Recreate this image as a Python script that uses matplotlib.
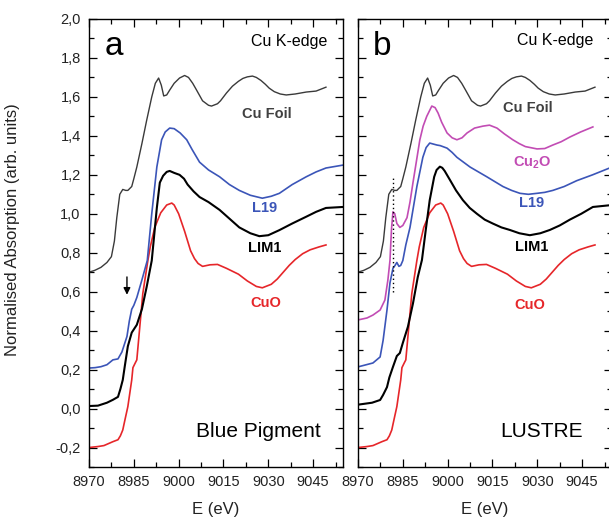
import matplotlib
matplotlib.use('Agg')
import matplotlib.pyplot as plt
from matplotlib.ticker import MultipleLocator, FuncFormatter

plt.rcParams['font.family'] = ['Liberation Sans', 'DejaVu Sans']
plt.rcParams['mathtext.fontset'] = 'custom'
plt.rcParams['mathtext.rm'] = 'Liberation Sans'
plt.rcParams['mathtext.bf'] = 'Liberation Sans:bold'

# ---- data (energy in eV, normalised absorption) ----
cufoil_E = [8970, 8972, 8974, 8976, 8977.5, 8978.5, 8979.3, 8980.3, 8981.3, 8982.3, 8983, 8984.3, 8985,
            8986, 8987.7, 8989.3, 8991, 8992.2, 8993.3, 8994.2, 8995, 8996, 8997, 8998.5, 9000.3, 9002,
            9003.3, 9004.7, 9006, 9008, 9010, 9011, 9013, 9014, 9016, 9018, 9020, 9021.5, 9023, 9024.7,
            9026, 9027.5, 9029, 9030.3, 9032, 9034, 9036, 9039, 9042.7, 9046, 9049.3]
cufoil_mu = [0.70, 0.71, 0.725, 0.75, 0.78, 0.86, 0.98, 1.10, 1.125, 1.12, 1.12, 1.14, 1.18,
             1.24, 1.36, 1.48, 1.60, 1.67, 1.697, 1.66, 1.605, 1.61, 1.635, 1.67, 1.697, 1.71,
             1.70, 1.67, 1.635, 1.58, 1.557, 1.553, 1.565, 1.58, 1.62, 1.655, 1.68, 1.695, 1.703, 1.707,
             1.70, 1.685, 1.665, 1.645, 1.627, 1.615, 1.61, 1.615, 1.625, 1.63, 1.65]

cuo_E = [8970, 8973, 8975, 8978, 8979.7, 8980.5, 8981.3, 8982, 8983, 8984.3, 8984.7, 8985.5, 8986,
         8987, 8988, 8989.7, 8990.5, 8992, 8994, 8996, 8997.7, 8998.5, 9000, 9002, 9004, 9005.3, 9006.5,
         9008, 9010.5, 9013, 9016, 9018, 9020, 9023, 9026, 9028, 9031, 9033, 9035, 9037, 9039, 9041.5,
         9044, 9047, 9049.3]
cuo_mu = [-0.20, -0.195, -0.19, -0.17, -0.16, -0.14, -0.11, -0.06, 0.01, 0.147, 0.21, 0.235, 0.25,
          0.42, 0.59, 0.76, 0.83, 0.93, 1.005, 1.045, 1.055, 1.045, 1.0, 0.91, 0.81, 0.77, 0.745,
          0.73, 0.738, 0.74, 0.72, 0.705, 0.69, 0.655, 0.627, 0.62, 0.638, 0.665, 0.70, 0.735, 0.765, 0.795,
          0.815, 0.83, 0.84]

# Blue pigment samples
l19a_E = [8970, 8972, 8974, 8976, 8978, 8979.7, 8981, 8982.7, 8983.5, 8984.3, 8985, 8986, 8987.7,
          8989.5, 8991, 8992.7, 8994.3, 8995.5, 8997, 8998.5, 9000.5, 9002.7, 9004.5, 9007, 9010,
          9013.7, 9017, 9020.3, 9024, 9028, 9031, 9033.7, 9038, 9042.7, 9046, 9049.3, 9055]
l19a_mu = [0.208, 0.21, 0.215, 0.225, 0.25, 0.255, 0.29, 0.37, 0.45, 0.51, 0.53, 0.57, 0.66,
           0.76, 1.0, 1.24, 1.38, 1.42, 1.44, 1.437, 1.415, 1.38, 1.33, 1.265, 1.225,
           1.19, 1.15, 1.12, 1.095, 1.08, 1.09, 1.105, 1.15, 1.19, 1.215, 1.235, 1.25]

lim1a_E = [8970, 8973, 8976, 8978, 8979.7, 8980.5, 8981.3, 8982, 8983, 8984.3, 8986, 8987.7, 8989.3,
           8991, 8992.7, 8993.7, 8994.8, 8996, 8997, 8998.5, 9000.3, 9001.8, 9003, 9005, 9007, 9010,
           9013.7, 9017, 9020.3, 9024, 9027, 9030, 9033.7, 9038, 9042.7, 9046, 9049.3, 9055]
lim1a_mu = [0.013, 0.015, 0.03, 0.045, 0.06, 0.10, 0.147, 0.22, 0.32, 0.39, 0.43, 0.51, 0.625,
            0.76, 1.03, 1.16, 1.195, 1.215, 1.22, 1.21, 1.20, 1.18, 1.15, 1.115, 1.086, 1.06,
            1.02, 0.975, 0.93, 0.90, 0.885, 0.89, 0.916, 0.95, 0.985, 1.01, 1.03, 1.035]

# Lustre samples
cu2o_E = [8970, 8973, 8975, 8977.4, 8979, 8980, 8980.7, 8981.2, 8981.7, 8982.3, 8983, 8984, 8985,
          8986.4, 8987.4, 8988.4, 8990.7, 8991.8, 8993, 8994.7, 8995.8, 8996.8, 8998, 8999.8, 9001.5,
          9003.1, 9004.8, 9006.5, 9009, 9011.8, 9014, 9016.5, 9019, 9021.8, 9024, 9026, 9029.9, 9032.5,
          9035.2, 9038, 9040.9, 9044.5, 9048.6]
cu2o_mu = [0.455, 0.465, 0.48, 0.506, 0.557, 0.66, 0.76, 0.92, 1.01, 1.0, 0.95, 0.93, 0.94,
           0.98, 1.06, 1.16, 1.38, 1.45, 1.50, 1.553, 1.545, 1.517, 1.47, 1.415, 1.39,
           1.38, 1.39, 1.415, 1.44, 1.45, 1.455, 1.44, 1.41, 1.38, 1.36, 1.345, 1.333, 1.335,
           1.353, 1.37, 1.394, 1.42, 1.446]

l19b_E = [8970, 8975, 8977.4, 8978.4, 8979.7, 8980.7, 8981.7, 8982.4, 8983, 8983.7, 8984.3, 8985,
          8986, 8987.4, 8989.7, 8991.7, 8992.8, 8994, 8996.4, 8997.5, 8999.8, 9001.5, 9003.1, 9005.3,
          9007.5, 9010.3, 9013.1, 9015.8, 9018.5, 9021.4, 9024.2, 9027, 9029.9, 9032.5, 9035.2, 9039,
          9043.2, 9048.5, 9055]
l19b_mu = [0.214, 0.234, 0.265, 0.35, 0.506, 0.645, 0.72, 0.735, 0.75, 0.73, 0.735, 0.76,
           0.84, 0.93, 1.14, 1.29, 1.34, 1.363, 1.353, 1.35, 1.337, 1.315, 1.29, 1.265,
           1.24, 1.215, 1.19, 1.165, 1.14, 1.12, 1.105, 1.1, 1.105, 1.11, 1.12, 1.14,
           1.17, 1.2, 1.24]

lim1b_E = [8970, 8974.7, 8977.4, 8978.4, 8979.7, 8980.5, 8981.7, 8983, 8984, 8985, 8986.7, 8988.4,
           8990, 8991.4, 8992.7, 8994, 8995.5, 8996.3, 8997.4, 8998.2, 8999, 9000.8, 9002.8, 9005.1,
           9007.4, 9009.8, 9012.4, 9015.1, 9018, 9020.8, 9024, 9027.5, 9031, 9034.2, 9037.5, 9040.9,
           9044.7, 9048.6, 9055]
lim1b_mu = [0.02, 0.03, 0.044, 0.07, 0.11, 0.16, 0.214, 0.27, 0.285, 0.337, 0.42, 0.54,
            0.675, 0.763, 0.92, 1.07, 1.19, 1.225, 1.242, 1.236, 1.22, 1.173, 1.12, 1.07,
            1.03, 1.0, 0.97, 0.95, 0.93, 0.917, 0.9, 0.89, 0.9, 0.917, 0.94, 0.97,
            1.0, 1.035, 1.045]

# ---- styling ----
c_foil = '#3a3a3a'
c_blue = '#3b55b8'
c_red = '#e6262a'
c_mag = '#c24cb4'

fig = plt.figure(figsize=(6.09, 5.19), dpi=100)
axA = fig.add_axes([89 / 609, 52 / 519, 254 / 609, 448 / 519])
axB = fig.add_axes([358 / 609, 52 / 519, 254 / 609, 448 / 519])

for ax in (axA, axB):
    ax.set_xlim(8970, 9055)
    ax.set_ylim(-0.3, 2.0)
    ax.xaxis.set_major_locator(MultipleLocator(15))
    ax.xaxis.set_minor_locator(MultipleLocator(7.5))
    ax.yaxis.set_major_locator(MultipleLocator(0.2))
    ax.yaxis.set_minor_locator(MultipleLocator(0.1))
    ax.yaxis.set_major_formatter(FuncFormatter(lambda v, p: f'{round(v, 1) + 0.0:.1f}'.replace('.', ',')))
    ax.tick_params(which='both', direction='in', top=True, right=True, width=0.9,
                   labelsize=10.5, labelcolor='#222222')
    ax.tick_params(which='major', length=6, pad=6)
    ax.tick_params(which='minor', length=3.5)
    for s in ax.spines.values():
        s.set_linewidth(1.0)
    ax.set_xlabel('E (eV)', fontsize=12, labelpad=9, color='#222222')
    ax.plot(cufoil_E, cufoil_mu, color=c_foil, lw=1.0)
    ax.plot(cuo_E, cuo_mu, color=c_red, lw=1.2)

axA.set_ylabel('Normalised Absorption (arb. units)', fontsize=12, color='#222222')
axA.yaxis.set_label_coords(-0.272, 0.53)
axB.tick_params(labelleft=False)

# panel a: blue pigment
axA.plot(l19a_E, l19a_mu, color=c_blue, lw=1.2)
axA.plot(lim1a_E, lim1a_mu, color='black', lw=1.5)
axA.annotate('', xy=(8982.7, 0.57), xytext=(8982.7, 0.69),
             arrowprops=dict(arrowstyle='-|>', color='black', lw=1.0, mutation_scale=10))

# panel b: lustre
axB.plot(cu2o_E, cu2o_mu, color=c_mag, lw=1.2)
axB.plot(l19b_E, l19b_mu, color=c_blue, lw=1.2)
axB.plot(lim1b_E, lim1b_mu, color='black', lw=1.5)
axB.plot([8981.7, 8981.7], [0.6, 1.19], color='black', lw=1.0, ls=(0, (1, 2)))

# texts
axA.text(0.063, 0.92, 'a', transform=axA.transAxes, fontsize=24, va='baseline')
axB.text(0.059, 0.92, 'b', transform=axB.transAxes, fontsize=24, va='baseline')
axA.text(0.937, 0.949, 'Cu K-edge', transform=axA.transAxes, fontsize=11.5, ha='right', va='center')
axB.text(0.925, 0.951, 'Cu K-edge', transform=axB.transAxes, fontsize=11.5, ha='right', va='center')
axA.text(0.665, 0.08, 'Blue Pigment', transform=axA.transAxes, fontsize=15, ha='center', va='center')
axB.text(0.724, 0.08, 'LUSTRE', transform=axB.transAxes, fontsize=15, ha='center', va='center')

lab = dict(fontsize=10.5, fontweight='bold', ha='center', va='center')
axA.text(9029.5, 1.512, 'Cu Foil', color='#404040', **lab)
axA.text(9028.7, 1.03, 'L19', color=c_blue, **lab)
axA.text(9028.7, 0.824, 'LIM1', color='black', **lab)
axA.text(9029.3, 0.542, 'CuO', color=c_red, **lab)

axB.text(9026.9, 1.543, 'Cu Foil', color='#404040', **lab)
axB.text(9028.2, 1.261, r'$\mathbf{Cu_2O}$', color=c_mag, **lab)
axB.text(9028.2, 1.055, 'L19', color=c_blue, **lab)
axB.text(9028.2, 0.83, 'LIM1', color='black', **lab)
axB.text(9027.5, 0.532, 'CuO', color=c_red, **lab)

fig.savefig('out.png', dpi=100)
